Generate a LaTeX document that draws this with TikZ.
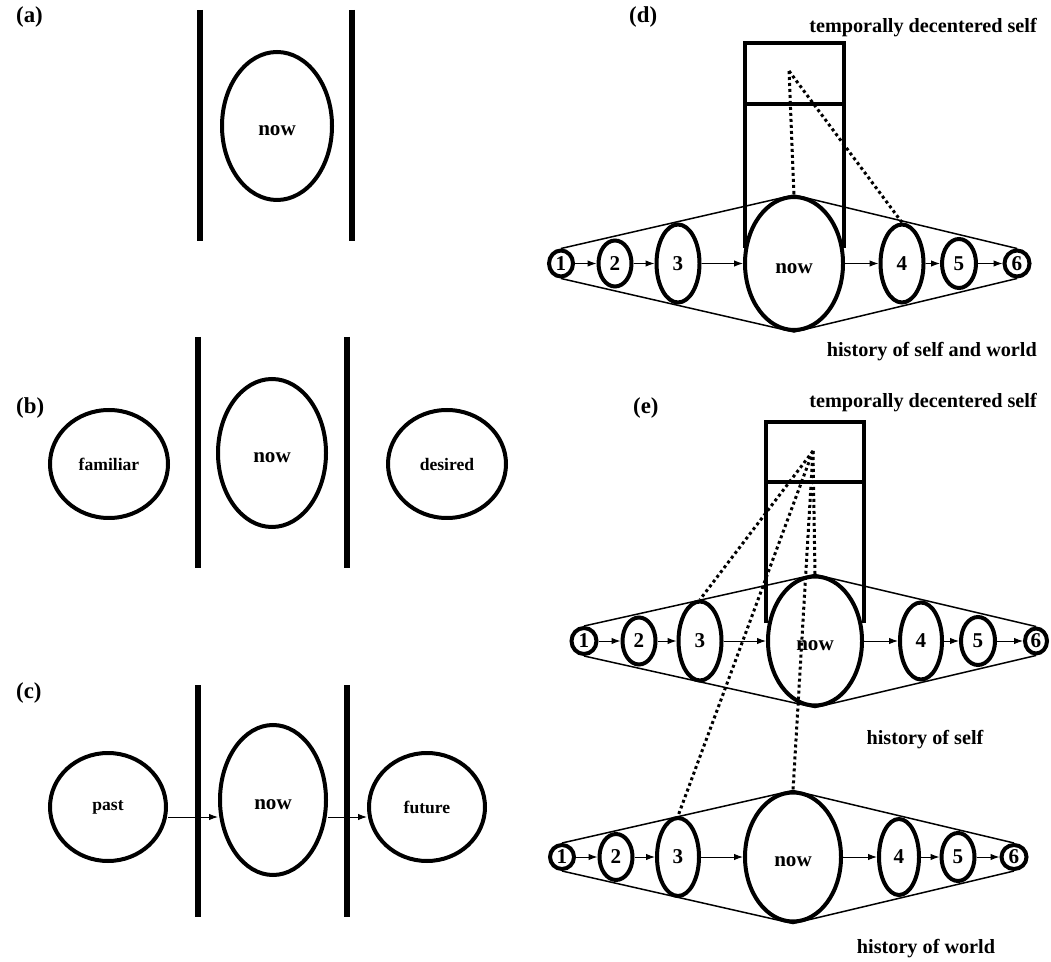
\documentclass[tikz,border=0pt]{standalone}
\usepackage{fontspec}
\setmainfont{Liberation Serif}
\usetikzlibrary{shapes.geometric,arrows.meta}

\tikzset{
	blob/.style={draw, ellipse, line width=0.08cm, inner sep=0pt, font=\fontsize{12}{14}\selectfont\bfseries},
	nowblob/.style={blob, text height=4mm},
	mood/.style={blob, font=\fontsize{10}{12}\selectfont\bfseries},
	wall/.style={line width=0.12cm},
	frame/.style={line width=0.08cm},
	hull/.style={line width=0.03cm},
	flow/.style={-{Latex[length=0.18cm, width=0.13cm]}, line width=0.02cm},
	sightline/.style={line width=0.06cm, dash pattern=on 0.06cm off 0.06cm},
	tag/.style={anchor=west, font=\fontsize{13}{15}\selectfont\bfseries},
	caption/.style={font=\fontsize{11.5}{13}\selectfont\bfseries}
}

\begin{document}
\begin{tikzpicture}
		\useasboundingbox (0, 0) rectangle (21.02, 19.22);
		%%%%% (a) %%%%%
		\node[tag] (a-tag) at (0.2, 18.88) {(a)};
		\draw[wall] (4.0, 19.02) -- (4.0, 14.4);
		\draw[wall] (7.04, 19.02) -- (7.04, 14.4);
		\node[nowblob, minimum width=2.2cm, minimum height=2.96cm] (a-now) at (5.54, 16.7) {now};
		
		%%%%% (b) %%%%%
		\node[tag] (b-tag) at (0.2, 11.06) {(b)};
		\draw[wall] (3.96, 12.48) -- (3.96, 7.86);
		\draw[wall] (6.94, 12.48) -- (6.94, 7.86);
		\node[mood, minimum width=2.36cm, minimum height=2.16cm] (b-familiar) at (2.18, 9.94) {familiar};
		\node[nowblob, minimum width=2.16cm, minimum height=2.96cm] (b-now) at (5.44, 10.16) {now};
		\node[mood, minimum width=2.36cm, minimum height=2.16cm] (b-desired) at (8.94, 9.94) {desired};
		
		%%%%% (c) %%%%%
		\node[tag] (c-tag) at (0.2, 5.36) {(c)};
		\draw[wall] (3.96, 5.52) -- (3.96, 0.88);
		\draw[wall] (6.94, 5.52) -- (6.94, 0.88);
		\node[mood, minimum width=2.32cm, minimum height=2.16cm] (c-past) at (2.16, 3.08) {past};
		\node[nowblob, minimum width=2.12cm, minimum height=3.0cm] (c-now) at (5.46, 3.22) {now};
		\node[mood, minimum width=2.32cm, minimum height=2.16cm] (c-future) at (8.54, 3.08) {future};
		\draw[flow] ([yshift=-0.2cm]c-past.east) -- ([yshift=-0.34cm]c-now.west);
		\draw[flow] ([yshift=-0.34cm]c-now.east) -- ([yshift=-0.2cm]c-future.west);
		
		%%%%% (d) %%%%%
		\node[tag] (d-tag) at (12.46, 18.88) {(d)};
		\node[caption, anchor=east] (d-self) at (20.86, 18.66) {temporally decentered self};
		\node[caption, anchor=east] (d-history) at (20.86, 12.18) {history of self and world};
		
		\draw[frame] (14.9, 14.26) -- (14.9, 18.36) -- (16.88, 18.36) -- (16.88, 14.26);
		\draw[frame] (14.9, 17.14) -- (16.88, 17.14);
		\coordinate (d-eye) at (15.78, 17.8);
		
		\node[blob, minimum width=0.48cm, minimum height=0.52cm] (d1) at (11.22, 13.95) {1};
		\node[blob, minimum width=0.66cm, minimum height=0.92cm] (d2) at (12.3, 13.95) {2};
		\node[blob, minimum width=0.86cm, minimum height=1.56cm] (d3) at (13.56, 13.95) {3};
		\node[nowblob, minimum width=1.96cm, minimum height=2.66cm] (d-now) at (15.88, 13.95) {now};
		\node[blob, minimum width=0.86cm, minimum height=1.56cm] (d4) at (18.04, 13.95) {4};
		\node[blob, minimum width=0.68cm, minimum height=0.98cm] (d5) at (19.18, 13.95) {5};
		\node[blob, minimum width=0.5cm, minimum height=0.52cm] (d6) at (20.34, 13.95) {6};
		
		\draw[hull] (d1.north) -- (d-now.north) -- (d6.north);
		\draw[hull] (d1.south) -- (d-now.south) -- (d6.south);
		\draw[flow] (d1) -- (d2);
		\draw[flow] (d2) -- (d3);
		\draw[flow] (d3) -- (d-now);
		\draw[flow] (d-now) -- (d4);
		\draw[flow] (d4) -- (d5);
		\draw[flow] (d5) -- (d6);
		
		\draw[sightline] (d-eye) -- (d-now.north);
		\draw[sightline] (d-eye) -- (d4.north);
		
		%%%%% (e) %%%%%
		\node[tag] (e-tag) at (12.54, 11.06) {(e)};
		\node[caption, anchor=east] (e-self) at (20.86, 11.16) {temporally decentered self};
		\node[caption] (e-history-self) at (18.5, 4.42) {history of self};
		\node[caption] (e-history-world) at (18.52, 0.24) {history of world};
		
		\draw[frame] (15.32, 6.76) -- (15.32, 10.78) -- (17.28, 10.78) -- (17.28, 6.76);
		\draw[frame] (15.32, 9.58) -- (17.28, 9.58);
		\coordinate (e-eye) at (16.26, 10.2);
		
		% self row
		\node[blob, minimum width=0.5cm, minimum height=0.52cm] (s1) at (11.68, 6.4) {1};
		\node[blob, minimum width=0.66cm, minimum height=0.94cm] (s2) at (12.78, 6.4) {2};
		\node[blob, minimum width=0.86cm, minimum height=1.58cm] (s3) at (14.0, 6.4) {3};
		\node[nowblob, minimum width=1.88cm, minimum height=2.58cm] (s-now) at (16.3, 6.4) {now};
		\node[blob, minimum width=0.84cm, minimum height=1.54cm] (s4) at (18.42, 6.4) {4};
		\node[blob, minimum width=0.68cm, minimum height=0.96cm] (s5) at (19.56, 6.4) {5};
		\node[blob, minimum width=0.44cm, minimum height=0.5cm] (s6) at (20.72, 6.4) {6};
		
		\draw[hull] (s1.north) -- (s-now.north) -- (s6.north);
		\draw[hull] (s1.south) -- (s-now.south) -- (s6.south);
		\draw[flow] (s1) -- (s2);
		\draw[flow] (s2) -- (s3);
		\draw[flow] (s3) -- (s-now);
		\draw[flow] (s-now) -- (s4);
		\draw[flow] (s4) -- (s5);
		\draw[flow] (s5) -- (s6);
		
		% world row
		\node[blob, minimum width=0.48cm, minimum height=0.48cm] (w1) at (11.24, 2.08) {1};
		\node[blob, minimum width=0.66cm, minimum height=0.92cm] (w2) at (12.32, 2.08) {2};
		\node[blob, minimum width=0.84cm, minimum height=1.56cm] (w3) at (13.56, 2.08) {3};
		\node[nowblob, minimum width=1.92cm, minimum height=2.58cm] (w-now) at (15.86, 2.08) {now};
		\node[blob, minimum width=0.8cm, minimum height=1.52cm] (w4) at (17.98, 2.08) {4};
		\node[blob, minimum width=0.66cm, minimum height=0.96cm] (w5) at (19.16, 2.08) {5};
		\node[blob, minimum width=0.5cm, minimum height=0.48cm] (w6) at (20.28, 2.08) {6};
		
		\draw[hull] (w1.north) -- (w-now.north) -- (w6.north);
		\draw[hull] (w1.south) -- (w-now.south) -- (w6.south);
		\draw[flow] (w1) -- (w2);
		\draw[flow] (w2) -- (w3);
		\draw[flow] (w3) -- (w-now);
		\draw[flow] (w-now) -- (w4);
		\draw[flow] (w4) -- (w5);
		\draw[flow] (w5) -- (w6);
		
		\draw[sightline] (e-eye) -- (s3.north);
		\draw[sightline] (e-eye) -- (s-now.north);
		\draw[sightline] (e-eye) -- (w3.north);
		\draw[sightline] (e-eye) -- (w-now.north);
		%%%%% END %%%%%
\end{tikzpicture}
\end{document}
